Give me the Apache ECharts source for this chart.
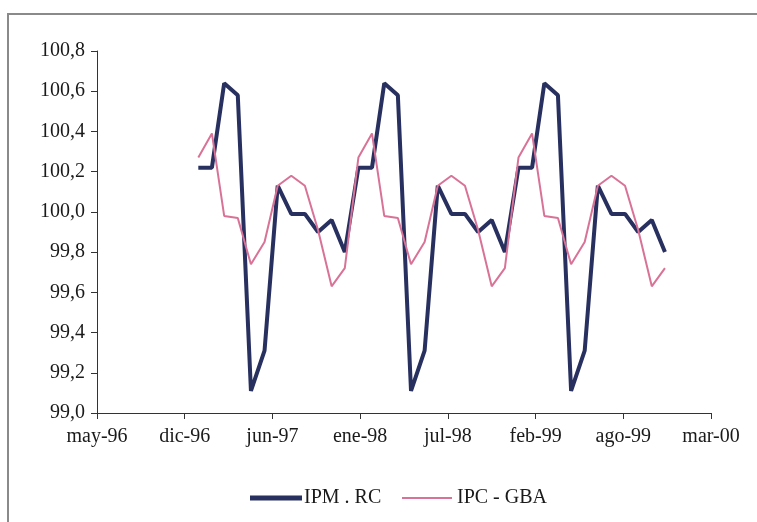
<!DOCTYPE html>
<html>
<head>
<meta charset="utf-8">
<script src="https://cdn.jsdelivr.net/npm/echarts@6/dist/echarts.min.js"></script>
<style>
html,body{margin:0;padding:0;background:#fff;}
#c{width:757px;height:522px;}
</style>
</head>
<body>
<div id="c"></div>
<script>
// Monthly dates (first of month), jan-97 .. dec-99
const months = [
  '1997-01','1997-02','1997-03','1997-04','1997-05','1997-06','1997-07','1997-08','1997-09','1997-10','1997-11','1997-12',
  '1998-01','1998-02','1998-03','1998-04','1998-05','1998-06','1998-07','1998-08','1998-09','1998-10','1998-11','1998-12',
  '1999-01','1999-02','1999-03','1999-04','1999-05','1999-06','1999-07','1999-08','1999-09','1999-10','1999-11','1999-12'
];
const ipmRC = [
  100.22,100.22,100.64,100.58,99.11,99.31,100.13,99.99,99.99,99.90,99.96,99.80,
  100.22,100.22,100.64,100.58,99.11,99.31,100.13,99.99,99.99,99.90,99.96,99.80,
  100.22,100.22,100.64,100.58,99.11,99.31,100.13,99.99,99.99,99.90,99.96,99.80
];
const ipcGBA = [
  100.27,100.39,99.98,99.97,99.74,99.85,100.13,100.18,100.13,99.91,99.63,99.72,
  100.27,100.39,99.98,99.97,99.74,99.85,100.13,100.18,100.13,99.91,99.63,99.72,
  100.27,100.39,99.98,99.97,99.74,99.85,100.13,100.18,100.13,99.91,99.63,99.72
];
const xTickLabels = ['may-96','dic-96','jun-97','ene-98','jul-98','feb-99','ago-99','mar-00'];
const seriesNames = ['IPM . RC','IPC - GBA'];

// x axis in days since 15-may-1996 (Excel-like date axis, major unit 200 days)
const origin = Date.UTC(1996,4,15);
function dayOf(m){ const [y,mo]=m.split('-').map(Number); return (Date.UTC(y,mo-1,1)-origin)/86400000; }
const d1 = months.map((m,i)=>[dayOf(m), ipmRC[i]]);
const d2 = months.map((m,i)=>[dayOf(m), ipcGBA[i]]);

const font = "'Liberation Serif', 'DejaVu Serif', serif";
const navy = '#27305e';
const pink = '#d97297';
const chart = echarts.init(document.getElementById('c'), null, {renderer:'canvas'});
chart.setOption({
  animation:false,
  backgroundColor:'#fff',
  graphic:[{type:'rect', shape:{x:8,y:14,width:800,height:560}, style:{fill:'none', stroke:'#8a8a8a', lineWidth:2}, silent:true, z:-1}],
  grid:{left:97, right:46, top:51, bottom:109, containLabel:false},
  xAxis:{
    type:'value', min:0, max:1400, interval:200,
    axisLine:{show:true, lineStyle:{color:'#333', width:1}},
    axisTick:{show:true, inside:false, length:6, lineStyle:{color:'#333'}},
    splitLine:{show:false},
    axisLabel:{margin:14, fontFamily:font, fontSize:20, color:'#1a1a1a',
      formatter:v=>xTickLabels[Math.round(v/200)] || ''}
  },
  yAxis:{
    type:'value', min:99, max:100.8, interval:0.2,
    axisLine:{show:true, lineStyle:{color:'#333', width:1}},
    axisTick:{show:true, length:6, lineStyle:{color:'#333'}},
    splitLine:{show:false},
    axisLabel:{margin:12, fontFamily:font, fontSize:20, color:'#1a1a1a',
      formatter:v=>v.toFixed(1).replace('.',',')}
  },
  legend:[
    {left:250, top:488, padding:0, itemWidth:52, itemHeight:5, icon:'rect', itemGap:0,
     textStyle:{fontFamily:font, fontSize:20, color:'#1a1a1a', padding:[0,0,0,-3]},
     data:[seriesNames[0]]},
    {left:402, top:488, padding:0, itemWidth:50, itemHeight:2, icon:'rect', itemGap:0,
     textStyle:{fontFamily:font, fontSize:20, color:'#1a1a1a', padding:[0,0,0,0]},
     data:[seriesNames[1]]}
  ],
  series:[
    {name:seriesNames[0], type:'line', data:d1, symbol:'none', lineStyle:{color:navy, width:4}, itemStyle:{color:navy}, z:2},
    {name:seriesNames[1], type:'line', data:d2, symbol:'none', lineStyle:{color:pink, width:2}, itemStyle:{color:pink}, z:3}
  ]
});
</script>
</body>
</html>
